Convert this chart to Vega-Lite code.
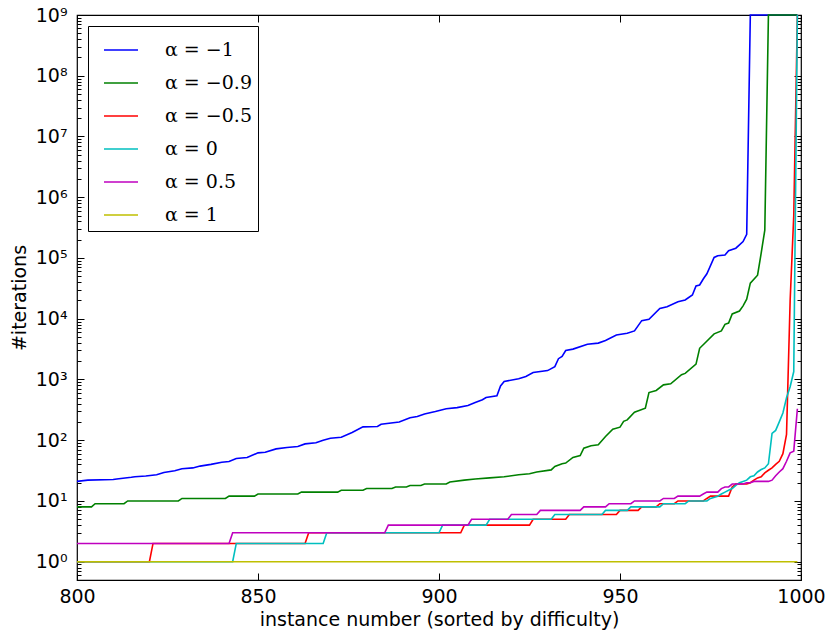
{
  "$schema": "https://vega.github.io/schema/vega-lite/v6.json",
  "width": 724,
  "height": 565,
  "autosize": {"type": "none"},
  "padding": {"left": 77, "top": 15, "right": 29, "bottom": 52},
  "background": "white",
  "config": {
    "view": {"stroke": "black", "strokeWidth": 1.2},
    "axis": {"domain": false, "grid": false, "labelFont": "DejaVu Sans", "labelFontSize": 19, "labelColor": "black", "titleFont": "DejaVu Sans", "titleFontSize": 19, "titleFontWeight": "normal", "titleColor": "black", "tickColor": "black", "tickWidth": 1, "labelFlush": false, "labelOverlap": false}
  },
  "data": {"values": [
    {"alpha": "α = −1", "instance": 800, "iterations": 21},
    {"alpha": "α = −1", "instance": 803, "iterations": 22},
    {"alpha": "α = −1", "instance": 810, "iterations": 22.5},
    {"alpha": "α = −1", "instance": 811, "iterations": 23},
    {"alpha": "α = −1", "instance": 815, "iterations": 24.5},
    {"alpha": "α = −1", "instance": 816, "iterations": 25},
    {"alpha": "α = −1", "instance": 819, "iterations": 25.7},
    {"alpha": "α = −1", "instance": 822, "iterations": 27},
    {"alpha": "α = −1", "instance": 824, "iterations": 29.5},
    {"alpha": "α = −1", "instance": 827, "iterations": 31.5},
    {"alpha": "α = −1", "instance": 829, "iterations": 34},
    {"alpha": "α = −1", "instance": 832, "iterations": 35},
    {"alpha": "α = −1", "instance": 834, "iterations": 37.5},
    {"alpha": "α = −1", "instance": 837, "iterations": 40},
    {"alpha": "α = −1", "instance": 840, "iterations": 43.5},
    {"alpha": "α = −1", "instance": 842, "iterations": 44.5},
    {"alpha": "α = −1", "instance": 844, "iterations": 50},
    {"alpha": "α = −1", "instance": 847, "iterations": 52},
    {"alpha": "α = −1", "instance": 850, "iterations": 62},
    {"alpha": "α = −1", "instance": 852, "iterations": 63.5},
    {"alpha": "α = −1", "instance": 855, "iterations": 72},
    {"alpha": "α = −1", "instance": 858, "iterations": 76},
    {"alpha": "α = −1", "instance": 861, "iterations": 79},
    {"alpha": "α = −1", "instance": 863, "iterations": 87},
    {"alpha": "α = −1", "instance": 866, "iterations": 91},
    {"alpha": "α = −1", "instance": 868, "iterations": 100},
    {"alpha": "α = −1", "instance": 870, "iterations": 108},
    {"alpha": "α = −1", "instance": 873, "iterations": 112},
    {"alpha": "α = −1", "instance": 876, "iterations": 134},
    {"alpha": "α = −1", "instance": 879, "iterations": 166},
    {"alpha": "α = −1", "instance": 883, "iterations": 168},
    {"alpha": "α = −1", "instance": 884, "iterations": 183},
    {"alpha": "α = −1", "instance": 889, "iterations": 200},
    {"alpha": "α = −1", "instance": 892, "iterations": 234},
    {"alpha": "α = −1", "instance": 894, "iterations": 245},
    {"alpha": "α = −1", "instance": 896, "iterations": 270},
    {"alpha": "α = −1", "instance": 899, "iterations": 296},
    {"alpha": "α = −1", "instance": 902, "iterations": 330},
    {"alpha": "α = −1", "instance": 905, "iterations": 344},
    {"alpha": "α = −1", "instance": 908, "iterations": 372},
    {"alpha": "α = −1", "instance": 910, "iterations": 418},
    {"alpha": "α = −1", "instance": 912, "iterations": 465},
    {"alpha": "α = −1", "instance": 913, "iterations": 505},
    {"alpha": "α = −1", "instance": 916, "iterations": 537},
    {"alpha": "α = −1", "instance": 917, "iterations": 785},
    {"alpha": "α = −1", "instance": 918, "iterations": 925},
    {"alpha": "α = −1", "instance": 922, "iterations": 1030},
    {"alpha": "α = −1", "instance": 924, "iterations": 1120},
    {"alpha": "α = −1", "instance": 926, "iterations": 1300},
    {"alpha": "α = −1", "instance": 930, "iterations": 1400},
    {"alpha": "α = −1", "instance": 932, "iterations": 1630},
    {"alpha": "α = −1", "instance": 933, "iterations": 2200},
    {"alpha": "α = −1", "instance": 934, "iterations": 2400},
    {"alpha": "α = −1", "instance": 935, "iterations": 3000},
    {"alpha": "α = −1", "instance": 937, "iterations": 3160},
    {"alpha": "α = −1", "instance": 941, "iterations": 3800},
    {"alpha": "α = −1", "instance": 944, "iterations": 3970},
    {"alpha": "α = −1", "instance": 946, "iterations": 4370},
    {"alpha": "α = −1", "instance": 949, "iterations": 5400},
    {"alpha": "α = −1", "instance": 952, "iterations": 5750},
    {"alpha": "α = −1", "instance": 954, "iterations": 6300},
    {"alpha": "α = −1", "instance": 956, "iterations": 9300},
    {"alpha": "α = −1", "instance": 958, "iterations": 9800},
    {"alpha": "α = −1", "instance": 961, "iterations": 14800},
    {"alpha": "α = −1", "instance": 963, "iterations": 15800},
    {"alpha": "α = −1", "instance": 966, "iterations": 19100},
    {"alpha": "α = −1", "instance": 968, "iterations": 20400},
    {"alpha": "α = −1", "instance": 970, "iterations": 24600},
    {"alpha": "α = −1", "instance": 971, "iterations": 34700},
    {"alpha": "α = −1", "instance": 972, "iterations": 36000},
    {"alpha": "α = −1", "instance": 973, "iterations": 45000},
    {"alpha": "α = −1", "instance": 974, "iterations": 55000},
    {"alpha": "α = −1", "instance": 976, "iterations": 102000},
    {"alpha": "α = −1", "instance": 977, "iterations": 109000},
    {"alpha": "α = −1", "instance": 979, "iterations": 112000},
    {"alpha": "α = −1", "instance": 980, "iterations": 132000},
    {"alpha": "α = −1", "instance": 982, "iterations": 145000},
    {"alpha": "α = −1", "instance": 984, "iterations": 186000},
    {"alpha": "α = −1", "instance": 985, "iterations": 245000},
    {"alpha": "α = −1", "instance": 986, "iterations": 1000000000},
    {"alpha": "α = −1", "instance": 999, "iterations": 1000000000},

    {"alpha": "α = −0.9", "instance": 800, "iterations": 8},
    {"alpha": "α = −0.9", "instance": 804, "iterations": 8},
    {"alpha": "α = −0.9", "instance": 805, "iterations": 9},
    {"alpha": "α = −0.9", "instance": 813, "iterations": 9},
    {"alpha": "α = −0.9", "instance": 814, "iterations": 10},
    {"alpha": "α = −0.9", "instance": 828, "iterations": 10},
    {"alpha": "α = −0.9", "instance": 829, "iterations": 11},
    {"alpha": "α = −0.9", "instance": 841, "iterations": 11},
    {"alpha": "α = −0.9", "instance": 842, "iterations": 12},
    {"alpha": "α = −0.9", "instance": 849, "iterations": 12},
    {"alpha": "α = −0.9", "instance": 850, "iterations": 13},
    {"alpha": "α = −0.9", "instance": 861, "iterations": 13},
    {"alpha": "α = −0.9", "instance": 862, "iterations": 14},
    {"alpha": "α = −0.9", "instance": 872, "iterations": 14},
    {"alpha": "α = −0.9", "instance": 873, "iterations": 15},
    {"alpha": "α = −0.9", "instance": 879, "iterations": 15},
    {"alpha": "α = −0.9", "instance": 880, "iterations": 16},
    {"alpha": "α = −0.9", "instance": 887, "iterations": 16},
    {"alpha": "α = −0.9", "instance": 888, "iterations": 17},
    {"alpha": "α = −0.9", "instance": 891, "iterations": 17},
    {"alpha": "α = −0.9", "instance": 892, "iterations": 18},
    {"alpha": "α = −0.9", "instance": 895, "iterations": 18},
    {"alpha": "α = −0.9", "instance": 896, "iterations": 19},
    {"alpha": "α = −0.9", "instance": 902, "iterations": 19},
    {"alpha": "α = −0.9", "instance": 903, "iterations": 20.5},
    {"alpha": "α = −0.9", "instance": 907, "iterations": 22},
    {"alpha": "α = −0.9", "instance": 910, "iterations": 23},
    {"alpha": "α = −0.9", "instance": 914, "iterations": 24},
    {"alpha": "α = −0.9", "instance": 918, "iterations": 25},
    {"alpha": "α = −0.9", "instance": 922, "iterations": 27},
    {"alpha": "α = −0.9", "instance": 925, "iterations": 28},
    {"alpha": "α = −0.9", "instance": 927, "iterations": 30},
    {"alpha": "α = −0.9", "instance": 931, "iterations": 32.5},
    {"alpha": "α = −0.9", "instance": 932, "iterations": 37},
    {"alpha": "α = −0.9", "instance": 934, "iterations": 41},
    {"alpha": "α = −0.9", "instance": 935, "iterations": 42},
    {"alpha": "α = −0.9", "instance": 937, "iterations": 52},
    {"alpha": "α = −0.9", "instance": 939, "iterations": 56},
    {"alpha": "α = −0.9", "instance": 940, "iterations": 74},
    {"alpha": "α = −0.9", "instance": 942, "iterations": 81},
    {"alpha": "α = −0.9", "instance": 944, "iterations": 84},
    {"alpha": "α = −0.9", "instance": 946, "iterations": 115},
    {"alpha": "α = −0.9", "instance": 948, "iterations": 152},
    {"alpha": "α = −0.9", "instance": 950, "iterations": 164},
    {"alpha": "α = −0.9", "instance": 951, "iterations": 205},
    {"alpha": "α = −0.9", "instance": 952, "iterations": 216},
    {"alpha": "α = −0.9", "instance": 954, "iterations": 290},
    {"alpha": "α = −0.9", "instance": 957, "iterations": 337},
    {"alpha": "α = −0.9", "instance": 958, "iterations": 610},
    {"alpha": "α = −0.9", "instance": 960, "iterations": 660},
    {"alpha": "α = −0.9", "instance": 962, "iterations": 815},
    {"alpha": "α = −0.9", "instance": 964, "iterations": 850},
    {"alpha": "α = −0.9", "instance": 967, "iterations": 1200},
    {"alpha": "α = −0.9", "instance": 968, "iterations": 1260},
    {"alpha": "α = −0.9", "instance": 971, "iterations": 1790},
    {"alpha": "α = −0.9", "instance": 972, "iterations": 3260},
    {"alpha": "α = −0.9", "instance": 976, "iterations": 5640},
    {"alpha": "α = −0.9", "instance": 978, "iterations": 6300},
    {"alpha": "α = −0.9", "instance": 979, "iterations": 8100},
    {"alpha": "α = −0.9", "instance": 980, "iterations": 8500},
    {"alpha": "α = −0.9", "instance": 981, "iterations": 12000},
    {"alpha": "α = −0.9", "instance": 983, "iterations": 13400},
    {"alpha": "α = −0.9", "instance": 984, "iterations": 16300},
    {"alpha": "α = −0.9", "instance": 985, "iterations": 21000},
    {"alpha": "α = −0.9", "instance": 986, "iterations": 38500},
    {"alpha": "α = −0.9", "instance": 988, "iterations": 52000},
    {"alpha": "α = −0.9", "instance": 989, "iterations": 120000},
    {"alpha": "α = −0.9", "instance": 990, "iterations": 288000},
    {"alpha": "α = −0.9", "instance": 991, "iterations": 1000000000},
    {"alpha": "α = −0.9", "instance": 999, "iterations": 1000000000},

    {"alpha": "α = −0.5", "instance": 800, "iterations": 1},
    {"alpha": "α = −0.5", "instance": 820, "iterations": 1},
    {"alpha": "α = −0.5", "instance": 821, "iterations": 2},
    {"alpha": "α = −0.5", "instance": 863, "iterations": 2},
    {"alpha": "α = −0.5", "instance": 864, "iterations": 3},
    {"alpha": "α = −0.5", "instance": 906, "iterations": 3},
    {"alpha": "α = −0.5", "instance": 907, "iterations": 4},
    {"alpha": "α = −0.5", "instance": 925, "iterations": 4},
    {"alpha": "α = −0.5", "instance": 926, "iterations": 5},
    {"alpha": "α = −0.5", "instance": 935, "iterations": 5},
    {"alpha": "α = −0.5", "instance": 936, "iterations": 6},
    {"alpha": "α = −0.5", "instance": 949, "iterations": 6},
    {"alpha": "α = −0.5", "instance": 950, "iterations": 7},
    {"alpha": "α = −0.5", "instance": 955, "iterations": 7},
    {"alpha": "α = −0.5", "instance": 956, "iterations": 8},
    {"alpha": "α = −0.5", "instance": 960, "iterations": 8},
    {"alpha": "α = −0.5", "instance": 961, "iterations": 9},
    {"alpha": "α = −0.5", "instance": 965, "iterations": 9},
    {"alpha": "α = −0.5", "instance": 966, "iterations": 10},
    {"alpha": "α = −0.5", "instance": 973, "iterations": 10},
    {"alpha": "α = −0.5", "instance": 974, "iterations": 11},
    {"alpha": "α = −0.5", "instance": 975, "iterations": 12},
    {"alpha": "α = −0.5", "instance": 980, "iterations": 12},
    {"alpha": "α = −0.5", "instance": 981, "iterations": 17},
    {"alpha": "α = −0.5", "instance": 982, "iterations": 19},
    {"alpha": "α = −0.5", "instance": 985, "iterations": 19},
    {"alpha": "α = −0.5", "instance": 986, "iterations": 20},
    {"alpha": "α = −0.5", "instance": 987, "iterations": 22},
    {"alpha": "α = −0.5", "instance": 988, "iterations": 24},
    {"alpha": "α = −0.5", "instance": 989, "iterations": 25},
    {"alpha": "α = −0.5", "instance": 990, "iterations": 29},
    {"alpha": "α = −0.5", "instance": 991, "iterations": 32},
    {"alpha": "α = −0.5", "instance": 992, "iterations": 35},
    {"alpha": "α = −0.5", "instance": 993, "iterations": 40},
    {"alpha": "α = −0.5", "instance": 994, "iterations": 45},
    {"alpha": "α = −0.5", "instance": 995, "iterations": 60},
    {"alpha": "α = −0.5", "instance": 996, "iterations": 125},
    {"alpha": "α = −0.5", "instance": 997, "iterations": 20000},
    {"alpha": "α = −0.5", "instance": 998, "iterations": 500000},
    {"alpha": "α = −0.5", "instance": 999, "iterations": 1000000000},

    {"alpha": "α = 0", "instance": 800, "iterations": 1},
    {"alpha": "α = 0", "instance": 843, "iterations": 1},
    {"alpha": "α = 0", "instance": 844, "iterations": 2},
    {"alpha": "α = 0", "instance": 868, "iterations": 2},
    {"alpha": "α = 0", "instance": 869, "iterations": 3},
    {"alpha": "α = 0", "instance": 900, "iterations": 3},
    {"alpha": "α = 0", "instance": 901, "iterations": 4},
    {"alpha": "α = 0", "instance": 913, "iterations": 4},
    {"alpha": "α = 0", "instance": 914, "iterations": 5},
    {"alpha": "α = 0", "instance": 931, "iterations": 5},
    {"alpha": "α = 0", "instance": 932, "iterations": 6},
    {"alpha": "α = 0", "instance": 945, "iterations": 6},
    {"alpha": "α = 0", "instance": 946, "iterations": 7},
    {"alpha": "α = 0", "instance": 952, "iterations": 7},
    {"alpha": "α = 0", "instance": 953, "iterations": 8},
    {"alpha": "α = 0", "instance": 961, "iterations": 8},
    {"alpha": "α = 0", "instance": 962, "iterations": 9},
    {"alpha": "α = 0", "instance": 968, "iterations": 9},
    {"alpha": "α = 0", "instance": 969, "iterations": 10},
    {"alpha": "α = 0", "instance": 974, "iterations": 10},
    {"alpha": "α = 0", "instance": 975, "iterations": 11},
    {"alpha": "α = 0", "instance": 977, "iterations": 12},
    {"alpha": "α = 0", "instance": 978, "iterations": 13},
    {"alpha": "α = 0", "instance": 979, "iterations": 14},
    {"alpha": "α = 0", "instance": 980, "iterations": 15},
    {"alpha": "α = 0", "instance": 981, "iterations": 16},
    {"alpha": "α = 0", "instance": 982, "iterations": 18},
    {"alpha": "α = 0", "instance": 983, "iterations": 20},
    {"alpha": "α = 0", "instance": 984, "iterations": 21},
    {"alpha": "α = 0", "instance": 985, "iterations": 22},
    {"alpha": "α = 0", "instance": 986, "iterations": 25},
    {"alpha": "α = 0", "instance": 987, "iterations": 26},
    {"alpha": "α = 0", "instance": 988, "iterations": 30},
    {"alpha": "α = 0", "instance": 989, "iterations": 33},
    {"alpha": "α = 0", "instance": 990, "iterations": 35},
    {"alpha": "α = 0", "instance": 991, "iterations": 41},
    {"alpha": "α = 0", "instance": 992, "iterations": 130},
    {"alpha": "α = 0", "instance": 993, "iterations": 145},
    {"alpha": "α = 0", "instance": 994, "iterations": 200},
    {"alpha": "α = 0", "instance": 995, "iterations": 280},
    {"alpha": "α = 0", "instance": 996, "iterations": 500},
    {"alpha": "α = 0", "instance": 997, "iterations": 760},
    {"alpha": "α = 0", "instance": 998, "iterations": 1350},
    {"alpha": "α = 0", "instance": 999, "iterations": 1000000000},

    {"alpha": "α = 0.5", "instance": 800, "iterations": 2},
    {"alpha": "α = 0.5", "instance": 842, "iterations": 2},
    {"alpha": "α = 0.5", "instance": 843, "iterations": 3},
    {"alpha": "α = 0.5", "instance": 885, "iterations": 3},
    {"alpha": "α = 0.5", "instance": 886, "iterations": 4},
    {"alpha": "α = 0.5", "instance": 908, "iterations": 4},
    {"alpha": "α = 0.5", "instance": 909, "iterations": 5},
    {"alpha": "α = 0.5", "instance": 919, "iterations": 5},
    {"alpha": "α = 0.5", "instance": 920, "iterations": 6},
    {"alpha": "α = 0.5", "instance": 927, "iterations": 6},
    {"alpha": "α = 0.5", "instance": 928, "iterations": 7},
    {"alpha": "α = 0.5", "instance": 939, "iterations": 7},
    {"alpha": "α = 0.5", "instance": 940, "iterations": 8},
    {"alpha": "α = 0.5", "instance": 946, "iterations": 8},
    {"alpha": "α = 0.5", "instance": 947, "iterations": 9},
    {"alpha": "α = 0.5", "instance": 953, "iterations": 9},
    {"alpha": "α = 0.5", "instance": 954, "iterations": 10},
    {"alpha": "α = 0.5", "instance": 961, "iterations": 10},
    {"alpha": "α = 0.5", "instance": 962, "iterations": 11},
    {"alpha": "α = 0.5", "instance": 965, "iterations": 11},
    {"alpha": "α = 0.5", "instance": 966, "iterations": 12},
    {"alpha": "α = 0.5", "instance": 972, "iterations": 12},
    {"alpha": "α = 0.5", "instance": 973, "iterations": 13},
    {"alpha": "α = 0.5", "instance": 974, "iterations": 14},
    {"alpha": "α = 0.5", "instance": 977, "iterations": 14},
    {"alpha": "α = 0.5", "instance": 978, "iterations": 16},
    {"alpha": "α = 0.5", "instance": 979, "iterations": 17},
    {"alpha": "α = 0.5", "instance": 980, "iterations": 17},
    {"alpha": "α = 0.5", "instance": 981, "iterations": 19},
    {"alpha": "α = 0.5", "instance": 984, "iterations": 19},
    {"alpha": "α = 0.5", "instance": 985, "iterations": 20},
    {"alpha": "α = 0.5", "instance": 986, "iterations": 20},
    {"alpha": "α = 0.5", "instance": 987, "iterations": 21},
    {"alpha": "α = 0.5", "instance": 991, "iterations": 21},
    {"alpha": "α = 0.5", "instance": 992, "iterations": 22},
    {"alpha": "α = 0.5", "instance": 993, "iterations": 26},
    {"alpha": "α = 0.5", "instance": 994, "iterations": 30},
    {"alpha": "α = 0.5", "instance": 995, "iterations": 34},
    {"alpha": "α = 0.5", "instance": 996, "iterations": 45},
    {"alpha": "α = 0.5", "instance": 997, "iterations": 62},
    {"alpha": "α = 0.5", "instance": 998, "iterations": 66},
    {"alpha": "α = 0.5", "instance": 999, "iterations": 330},

    {"alpha": "α = 1", "instance": 800, "iterations": 1},
    {"alpha": "α = 1", "instance": 999, "iterations": 1}
  ]},
  "layer": [
    {
      "mark": {"type": "line", "strokeWidth": 1.6},
      "encoding": {
        "x": {"field": "instance", "type": "quantitative", "scale": {"domain": [800, 1000], "nice": false, "zero": false},
              "axis": {"orient": "bottom", "values": [800, 850, 900, 950, 1000], "format": "d", "tickSize": -7, "labelPadding": 14, "title": "instance number (sorted by difficulty)", "titlePadding": 4}},
        "y": {"field": "iterations", "type": "quantitative", "scale": {"type": "log", "domain": [0.5, 1000000000], "nice": false},
              "axis": {"orient": "left", "values": [1, 10, 100, 1000, 10000, 100000, 1000000, 10000000, 100000000, 1000000000], "tickSize": -7, "labelPadding": 17,
                       "labelExpr": "'10' + substring('⁰¹²³⁴⁵⁶⁷⁸⁹', round(log(datum.value)/LN10), round(log(datum.value)/LN10) + 1)",
                       "title": "#iterations", "titlePadding": 6}},
        "color": {"field": "alpha", "type": "nominal",
                  "scale": {"domain": ["α = −1", "α = −0.9", "α = −0.5", "α = 0", "α = 0.5", "α = 1"],
                            "range": ["#0000ff", "#008000", "#ff0000", "#00bfbf", "#bf00bf", "#bfbf00"]},
                  "legend": {"title": null, "orient": "top-left", "offset": 11, "padding": 6, "symbolOffset": 9, "strokeColor": "black", "fillColor": "white", "cornerRadius": 0,
                             "symbolType": "stroke", "symbolSize": 1156, "symbolStrokeWidth": 1.6,
                             "labelFont": "DejaVu Serif", "labelFontSize": 19, "labelColor": "black", "labelOffset": 26, "rowPadding": 5}}
      }
    },
    {
      "mark": {"type": "point", "opacity": 0},
      "encoding": {
        "x": {"field": "instance", "type": "quantitative", "scale": {"domain": [800, 1000], "nice": false, "zero": false}, "axis": null},
        "y": {"field": "iterations", "type": "quantitative", "scale": {"type": "log", "domain": [0.5, 1000000000], "nice": false},
              "axis": {"orient": "left", "values": [0.6,0.7,0.8,0.9,2,3,4,5,6,7,8,9,20,30,40,50,60,70,80,90,200,300,400,500,600,700,800,900,2000,3000,4000,5000,6000,7000,8000,9000,20000,30000,40000,50000,60000,70000,80000,90000,200000,300000,400000,500000,600000,700000,800000,900000,2000000,3000000,4000000,5000000,6000000,7000000,8000000,9000000,20000000,30000000,40000000,50000000,60000000,70000000,80000000,90000000,200000000,300000000,400000000,500000000,600000000,700000000,800000000,900000000], "tickSize": -4, "labels": false, "title": null}}
      }
    },
    {
      "mark": {"type": "point", "opacity": 0},
      "encoding": {
        "x": {"field": "instance", "type": "quantitative", "scale": {"domain": [800, 1000], "nice": false, "zero": false},
              "axis": {"orient": "top", "values": [800, 850, 900, 950, 1000], "tickSize": -7, "labels": false, "title": null}},
        "y": {"field": "iterations", "type": "quantitative", "scale": {"type": "log", "domain": [0.5, 1000000000], "nice": false},
              "axis": {"orient": "right", "values": [1, 10, 100, 1000, 10000, 100000, 1000000, 10000000, 100000000, 1000000000], "tickSize": -7, "labels": false, "title": null}}
      }
    },
    {
      "mark": {"type": "point", "opacity": 0},
      "encoding": {
        "x": {"field": "instance", "type": "quantitative", "scale": {"domain": [800, 1000], "nice": false, "zero": false}, "axis": null},
        "y": {"field": "iterations", "type": "quantitative", "scale": {"type": "log", "domain": [0.5, 1000000000], "nice": false},
              "axis": {"orient": "right", "values": [0.6,0.7,0.8,0.9,2,3,4,5,6,7,8,9,20,30,40,50,60,70,80,90,200,300,400,500,600,700,800,900,2000,3000,4000,5000,6000,7000,8000,9000,20000,30000,40000,50000,60000,70000,80000,90000,200000,300000,400000,500000,600000,700000,800000,900000,2000000,3000000,4000000,5000000,6000000,7000000,8000000,9000000,20000000,30000000,40000000,50000000,60000000,70000000,80000000,90000000,200000000,300000000,400000000,500000000,600000000,700000000,800000000,900000000], "tickSize": -4, "labels": false, "title": null}}
      }
    }
  ],
  "resolve": {"axis": {"x": "independent", "y": "independent"}}
}
